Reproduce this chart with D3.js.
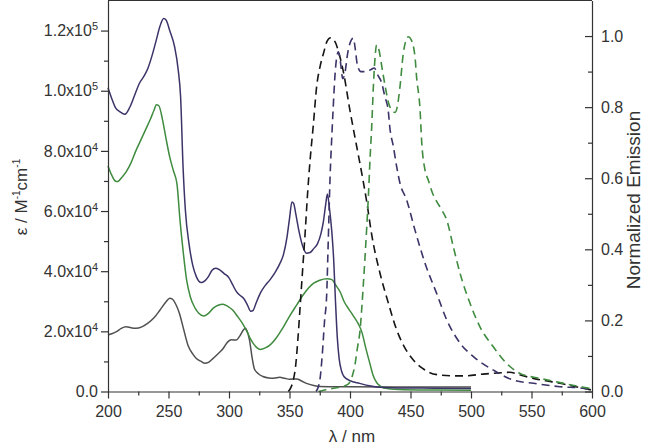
<!DOCTYPE html>
<html>
<head>
<meta charset="utf-8">
<script src="https://cdn.jsdelivr.net/npm/d3@7"></script>
<style>
  body { margin: 0; background: #fff; }
  svg text { font-family: "Liberation Sans", Arial, sans-serif; fill: #333; }
</style>
</head>
<body>
<div id="chart"></div>
<script>
// absorption spectra (wavelength nm, epsilon M-1 cm-1)
var absPurpleX = [200,203,206,210,214,218,222,226,230,233,237,240,243,246,248,251,255,258,260,262,264,267,270,273,277,280,283,286,289,292,296,300,303,306,309,312,315,318,320,322,326,330,334,338,342,345,348,350,352,353.5,355,358,361,364,367,370,373,376,378,380,381.3,383,385,386.5,388,389.5,391,393,395,400,408,416,425,440,470,500];
var absPurpleY = [101000,97500,94500,93000,92200,94500,98500,102500,105000,107500,112500,117000,121500,124000,123500,120000,114700,107000,98000,75000,60000,49000,42000,38200,36200,36800,38200,40300,41000,40500,39200,37800,35500,33300,32000,31000,29000,26700,27000,29000,32800,35300,37200,39500,42500,45500,51500,57500,63000,62500,59500,53000,48200,46000,46200,47500,49000,52500,56500,62500,65700,61000,53000,44000,30000,18000,11000,6800,5000,3600,2700,1900,1400,1200,1100,1000];

var absGreenX = [200,203,206,208,211,215,219,223,227,231,235,238,240,242,245,248,251,254,257,259.5,262,265,268,272,275,279,283,287,291,295,299,303,307,311,315,318,320,323,326,330,334,339,345,350,356,362,370,375,381,385,388,392,395,399,403,407,410,413,416.5,419,422,425,428,440,470,500];
var absGreenY = [75000,72000,70000,69800,71000,73000,76000,80000,83500,87000,90500,93500,95300,95000,90500,84000,78000,73500,69000,57000,47000,37000,31500,27700,26000,25100,26000,27700,28700,29000,28300,27100,25000,22700,19800,17300,16000,14600,14000,14500,15500,17800,21500,25000,28800,32500,36000,37000,37500,37200,35500,33000,30000,27400,25000,22400,19500,14500,9200,5500,3000,1800,1200,700,500,400];

var absGrayX = [200,203,207,211,215,219,223,228,233,238,243,248,251,253,256,259,262,266,270,273,277,280,283,286,290,295,299,302,306,309,312,313.5,315,317,319,321,324,328,333,337,342,346,350,356,360,364,370,375,400,450,500];
var absGrayY = [18800,19200,19900,21000,21500,21200,21000,21500,22700,24500,27100,29800,31000,30800,29000,26000,21500,15500,12500,11000,10000,9400,9700,10700,12200,14200,16500,17200,17100,18500,20500,21000,20000,17000,11500,7500,6000,5000,4500,4400,4700,4400,4100,4150,3500,2700,2000,1700,1600,1500,1500];

// normalized emission spectra
var emBlackX = [349,351,353,355,357,359,361,363,365,367,369.7,372.5,375,378,381,384,387.6,391,394.5,400,405.5,411,414,418,425,431.6,438.6,445,452,460,466,475,485,495,510,522,532,540,551.5,562,573.6,583,592.8,600];
var emBlackY = [0,0.01,0.03,0.07,0.15,0.25,0.35,0.45,0.56,0.65,0.75,0.86,0.91,0.95,0.985,0.995,0.984,0.95,0.9,0.79,0.69,0.59,0.53,0.44,0.33,0.25,0.173,0.125,0.09,0.065,0.053,0.046,0.044,0.044,0.049,0.052,0.054,0.047,0.037,0.03,0.023,0.016,0.009,0.004];

var emPurpleX = [372,375,377,379,380.7,382,383.5,385,386,387.6,389,390.4,392,394,396,398,400,402.7,404.5,406,409,413,417,420,423,426,428.8,431.6,433,435.8,438.6,441.3,446.8,453.7,462,471.6,480,491,502,518.6,535,551.7,573.6,592.9,600];
var emPurpleY = [0,0.03,0.1,0.2,0.27,0.42,0.6,0.72,0.79,0.89,0.94,0.956,0.93,0.88,0.9,0.95,0.98,0.994,0.96,0.92,0.9,0.9,0.905,0.91,0.89,0.87,0.83,0.79,0.74,0.69,0.632,0.586,0.539,0.454,0.361,0.276,0.201,0.136,0.098,0.06,0.032,0.023,0.0135,0.009,0.005];

var emGreenX = [374,380,388,395,398.6,402,404.1,406,408.3,411,413.8,415.2,416.5,418,419.3,420.5,422,424,426,429,432,435,437.2,439,441.3,444,446,448.2,450.5,453.7,455,457.9,459.3,462,464.7,468,471.6,476,480,485.4,491,499.2,507.4,518.4,529.5,540.5,557,573.6,592.9,600];
var emGreenY = [0,0.005,0.01,0.015,0.021,0.045,0.075,0.12,0.172,0.3,0.46,0.55,0.65,0.75,0.857,0.93,0.975,0.96,0.92,0.86,0.81,0.79,0.785,0.8,0.857,0.95,0.985,0.998,0.99,0.942,0.886,0.792,0.7,0.623,0.595,0.56,0.535,0.51,0.482,0.407,0.332,0.248,0.182,0.126,0.079,0.051,0.037,0.025,0.012,0.008];

var xTicks = [200,250,300,350,400,450,500,550,600];
var xMinor = [225,275,325,375,425,475,525,575];
var yTicks = [0,20000,40000,60000,80000,100000,120000];
var yMinor = [10000,30000,50000,70000,90000,110000];
var y2Ticks = [0,0.2,0.4,0.6,0.8,1.0];
var y2Minor = [0.1,0.3,0.5,0.7,0.9];

var W = 646, H = 448;
var plotL = 108, plotR = 592, plotT = 0.5, plotB = 391.5;

var svg = d3.select("#chart").append("svg")
    .attr("width", W)
    .attr("height", H);

var x = d3.scaleLinear().domain([200, 600]).range([plotL, plotR]);
var y = d3.scaleLinear().domain([0, 130000]).range([plotB, plotT]);
var y2 = d3.scaleLinear().domain([0, 1.1]).range([plotB, plotT]);

function zip(xs, ys) { return xs.map(function(v, i) { return [v, ys[i]]; }); }

var absLine = d3.line()
  .x(function(d) { return x(d[0]); })
  .y(function(d) { return y(d[1]); })
  .curve(d3.curveMonotoneX);
var emLine = d3.line()
  .x(function(d) { return x(d[0]); })
  .y(function(d) { return y2(d[1]); })
  .curve(d3.curveMonotoneX);

// solid absorption curves
[[absGrayX, absGrayY, "#505050"],
 [absGreenX, absGreenY, "#3f8b3f"],
 [absPurpleX, absPurpleY, "#3b3468"]].forEach(function(s) {
  svg.append("path")
    .datum(zip(s[0], s[1]))
    .attr("fill", "none")
    .attr("stroke", s[2])
    .attr("stroke-width", 1.5)
    .attr("d", absLine);
});

// dashed emission curves
[[emBlackX, emBlackY, "#151515"],
 [emPurpleX, emPurpleY, "#3b3468"],
 [emGreenX, emGreenY, "#3f8b3f"]].forEach(function(s) {
  svg.append("path")
    .datum(zip(s[0], s[1]))
    .attr("fill", "none")
    .attr("stroke", s[2])
    .attr("stroke-width", 1.6)
    .attr("stroke-dasharray", "8,5")
    .attr("d", emLine);
});

// frame top
svg.append("line")
  .attr("x1", plotL).attr("x2", plotR)
  .attr("y1", plotT).attr("y2", plotT)
  .attr("stroke", "#333").attr("stroke-width", 1.2);

function styleAxis(g) {
  g.selectAll("path, line").attr("stroke", "#333").attr("stroke-width", 1.2);
  g.selectAll("text").style("font-size", "16px").attr("fill", "#3a3a3a")
    .style("font-family", "'Liberation Sans', Arial, sans-serif");
}

// bottom axis
svg.append("g")
  .attr("transform", "translate(0," + plotB + ")")
  .call(d3.axisBottom(x).tickValues(xTicks).tickSize(7).tickSizeOuter(0).tickPadding(7))
  .call(styleAxis);
svg.append("g")
  .attr("transform", "translate(0," + plotB + ")")
  .call(d3.axisBottom(x).tickValues(xMinor).tickSize(4).tickFormat(""))
  .call(styleAxis)
  .select(".domain").remove();

// left axis
var gl = svg.append("g")
  .attr("transform", "translate(" + plotL + ",0)")
  .call(d3.axisLeft(y).tickValues(yTicks).tickSize(7).tickSizeOuter(0).tickPadding(3).tickFormat(""))
  .call(styleAxis);
gl.selectAll(".tick text").each(function(d) {
  var t = d3.select(this);
  if (d === 0) { t.text("0.0"); return; }
  var e = Math.floor(Math.log10(d));
  var m = (d / Math.pow(10, e)).toFixed(1);
  t.append("tspan").text(m + "x10");
  t.append("tspan").attr("dy", -6).style("font-size", "11px").text(e);
});
svg.append("g")
  .attr("transform", "translate(" + plotL + ",0)")
  .call(d3.axisLeft(y).tickValues(yMinor).tickSize(4).tickFormat(""))
  .call(styleAxis)
  .select(".domain").remove();

// right axis, ticks pointing inwards
svg.append("g")
  .attr("transform", "translate(" + plotR + ",0)")
  .call(d3.axisRight(y2).tickValues(y2Ticks).tickSize(-7).tickSizeOuter(0).tickPadding(9).tickFormat(d3.format(".1f")))
  .call(styleAxis);
svg.append("g")
  .attr("transform", "translate(" + plotR + ",0)")
  .call(d3.axisRight(y2).tickValues(y2Minor).tickSize(-4).tickFormat(""))
  .call(styleAxis)
  .select(".domain").remove();

// axis titles
svg.append("text")
  .attr("x", 352)
  .attr("y", 442)
  .attr("text-anchor", "middle")
  .style("font-size", "17px")
  .text("λ / nm");

var yt = svg.append("text")
  .attr("transform", "translate(27,197) rotate(-90)")
  .attr("text-anchor", "middle")
  .style("font-size", "17px");
yt.append("tspan").text("ε / M");
yt.append("tspan").attr("dy", -7).style("font-size", "10px").text("-1");
yt.append("tspan").attr("dy", 7).text("cm");
yt.append("tspan").attr("dy", -7).style("font-size", "10px").text("-1");

svg.append("text")
  .attr("transform", "translate(640,200) rotate(-90)")
  .attr("text-anchor", "middle")
  .style("font-size", "19px")
  .text("Normalized Emission");
</script>
</body>
</html>
